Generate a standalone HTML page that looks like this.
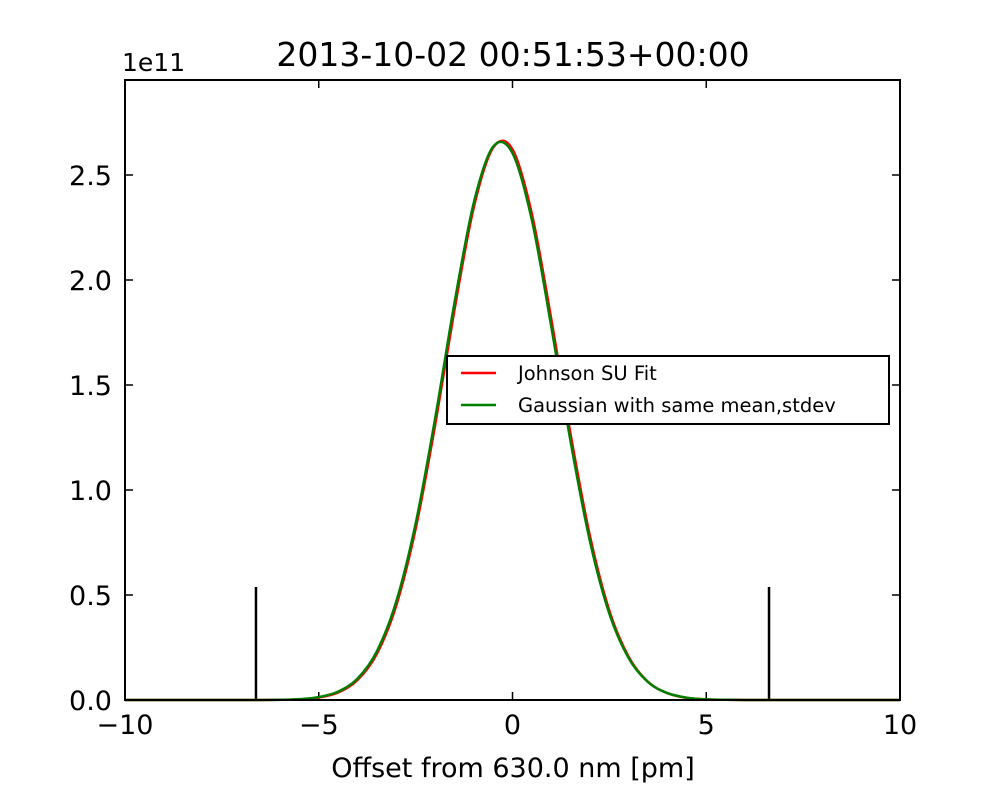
<!DOCTYPE html>
<html><head><meta charset="utf-8"><style>
body{margin:0;background:#fff}
svg text{font-family:"DejaVu Sans","Liberation Sans",sans-serif;fill:#000}
</style></head><body>
<svg id="c" width="1000" height="800" xmlns="http://www.w3.org/2000/svg">
<rect width="1000" height="800" fill="#fff"/>
<text x="513" y="66" font-size="33" text-anchor="middle">2013-10-02 00:51:53+00:00</text>
<text x="122" y="71" font-size="25">1e11</text>
<text x="513" y="777" font-size="27" text-anchor="middle">Offset from 630.0 nm [pm]</text>
<g id="ticks"></g>
<g id="plot"></g>
<rect x="125" y="80" width="775" height="620" fill="none" stroke="#000" stroke-width="2"/>
<g>
<rect x="447" y="356" width="442" height="68" fill="#fff" stroke="#000" stroke-width="2"/>
<line x1="461" y1="373" x2="496" y2="373" stroke="#ff0000" stroke-width="2.5"/>
<text x="518" y="380" font-size="19.5">Johnson SU Fit</text>
<line x1="461" y1="405" x2="496" y2="405" stroke="#007f00" stroke-width="2.5"/>
<text x="518" y="412" font-size="19.5">Gaussian with same mean,stdev</text>
</g>
</svg>
<script>
const xTicks=[-10,-5,0,5,10];
const xTickLabels=["\u221210","\u22125","0","5","10"];
const yTicks=[0,0.5,1.0,1.5,2.0,2.5];
const yTickLabels=["0.0","0.5","1.0","1.5","2.0","2.5"];
const xs=[-10,-7,-6.5,-6,-5.5,-5,-4.5,-4,-3.5,-3,-2.5,-2,-1.5,-1,-0.5,0,0.5,1,1.5,2,2.5,3,3.5,4,4.5,5,5.5,6,6.5,7,10];
const gaussVals=[0,0,0,0.001,0.004,0.014,0.040,0.102,0.232,0.469,0.840,1.337,1.888,2.367,2.635,2.604,2.285,1.779,1.230,0.755,0.411,0.199,0.085,0.033,0.011,0.003,0.001,0,0,0,0];
const johnsonVals=[0,0,0,0.001,0.003,0.012,0.036,0.095,0.220,0.450,0.815,1.305,1.855,2.345,2.630,2.622,2.315,1.815,1.265,0.780,0.425,0.205,0.086,0.032,0.010,0.003,0.001,0,0,0,0];
const markerXs=[-6.62,6.62];
const markerHeights=[0.538,0.538];
const X=v=>125+(v+10)*38.75, Y=v=>700-v*210;
const NS="http://www.w3.org/2000/svg";
const plot=document.getElementById('plot'), tk=document.getElementById('ticks');
function mk(t,a,p){const e=document.createElementNS(NS,t);for(const k in a)e.setAttribute(k,a[k]);p.appendChild(e);return e;}
xTicks.forEach((v,i)=>{
 const t=mk('text',{x:X(v),y:734,'font-size':27,'text-anchor':'middle'},tk);t.textContent=xTickLabels[i];
 
 
 mk('line',{x1:X(v),x2:X(v),y1:700,y2:692,stroke:'#000','stroke-width':1.5},tk);
 mk('line',{x1:X(v),x2:X(v),y1:80,y2:88,stroke:'#000','stroke-width':1.5},tk);
});
yTicks.forEach((v,i)=>{
 const t=mk('text',{x:112,y:Y(v)+10,'font-size':27,'text-anchor':'end'},tk);t.textContent=yTickLabels[i];
 
 
 mk('line',{x1:125,x2:133,y1:Y(v),y2:Y(v),stroke:'#000','stroke-width':1.5},tk);
 mk('line',{x1:892,x2:900,y1:Y(v),y2:Y(v),stroke:'#000','stroke-width':1.5},tk);
});
function spline(xa,ya){
 const p=xa.map((x,i)=>[X(x),Y(ya[i])]);let d='M'+p[0][0]+','+p[0][1];
 for(let i=0;i<p.length-1;i++){const p0=p[Math.max(0,i-1)],p1=p[i],p2=p[i+1],p3=p[Math.min(p.length-1,i+2)];
  const c1=[p1[0]+(p2[0]-p0[0])/6,p1[1]+(p2[1]-p0[1])/6],c2=[p2[0]-(p3[0]-p1[0])/6,p2[1]-(p3[1]-p1[1])/6];
  d+=`C${c1[0]},${c1[1]} ${c2[0]},${c2[1]} ${p2[0]},${p2[1]}`;}
 return d;}
markerXs.forEach((v,i)=>{
 const l=mk('line',{x1:X(v),x2:X(v),y1:700,y2:Y(markerHeights[i]),stroke:'#000','stroke-width':2.5},plot);
 
 
});
const r=mk('path',{d:spline(xs,johnsonVals),fill:'none',stroke:'#ff0000','stroke-width':2.5},plot);


const g=mk('path',{d:spline(xs,gaussVals),fill:'none',stroke:'#007f00','stroke-width':2.5},plot);


</script>
</body></html>
